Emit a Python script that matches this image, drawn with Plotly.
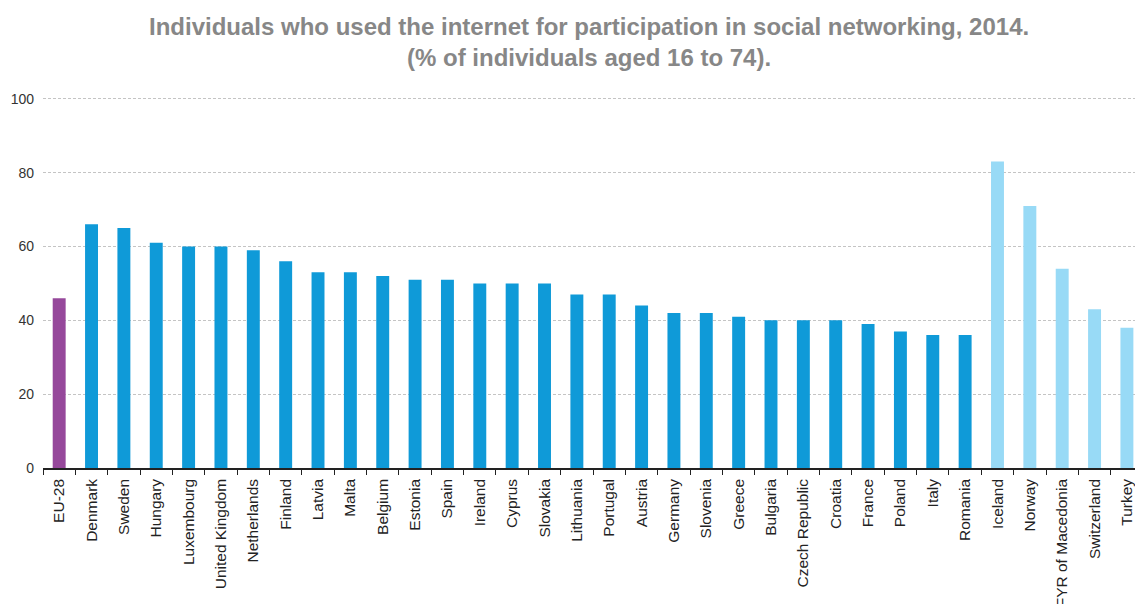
import plotly.graph_objects as go

categories = ["EU-28", "Denmark", "Sweden", "Hungary", "Luxembourg", "United Kingdom",
              "Netherlands", "Finland", "Latvia", "Malta", "Belgium", "Estonia", "Spain",
              "Ireland", "Cyprus", "Slovakia", "Lithuania", "Portugal", "Austria", "Germany",
              "Slovenia", "Greece", "Bulgaria", "Czech Republic", "Croatia", "France",
              "Poland", "Italy", "Romania", "Iceland", "Norway", "FYR of Macedonia",
              "Switzerland", "Turkey"]
values = [46, 66, 65, 61, 60, 60, 59, 56, 53, 53, 52, 51, 51, 50, 50, 50, 47, 47, 44, 42,
          42, 41, 40, 40, 40, 39, 37, 36, 36, 83, 71, 54, 43, 38]
groups = ["eu"] + ["member"] * 28 + ["other"] * 5
y_ticks = [0, 20, 40, 60, 80, 100]

group_colors = {"eu": "#96489B", "member": "#0F9AD8", "other": "#98DAF6"}
colors = [group_colors[g] for g in groups]

fig = go.Figure()
fig.add_trace(go.Bar(
    x=categories, y=values, marker=dict(color=colors, line=dict(width=0)),
    width=0.4, hoverinfo="skip",
))

n = len(categories)
fig.update_layout(
    width=1135, height=604,
    margin=dict(l=43, r=0, t=97, b=136, autoexpand=False),
    paper_bgcolor="white", plot_bgcolor="white",
    showlegend=False,
    font=dict(family="Liberation Sans, Arial, sans-serif", color="#222"),
    annotations=[dict(
        text="<b>Individuals who used the internet for participation in social networking, 2014.<br>(% of individuals aged 16 to 74).</b>",
        xref="paper", yref="paper", x=0.5, y=1.232, xanchor="center", yanchor="top",
        showarrow=False, align="center",
        font=dict(family="Liberation Sans, Arial, sans-serif", size=24, color="#878787"),
    )],
    xaxis=dict(
        range=[-0.5, n - 0.5 - 0.25], automargin=False,
        tickangle=-90, tickfont=dict(size=15.5, color="#222"),
        showline=True, linecolor="#222", linewidth=1.5,
        ticks="outside", ticklen=5, tickcolor="#222", tickson="boundaries",
        ticklabelstandoff=3,
        showgrid=False, fixedrange=True,
    ),
    yaxis=dict(
        range=[0, 100.5], tickvals=y_ticks, automargin=False,
        tickfont=dict(size=14, color="#333"),
        showgrid=True, gridcolor="#c4c4c4", griddash="3px,2px", gridwidth=1,
        zeroline=False, showline=False, ticks="", ticklabelstandoff=8,
        fixedrange=True,
    ),
)

fig.write_html("out.html")
